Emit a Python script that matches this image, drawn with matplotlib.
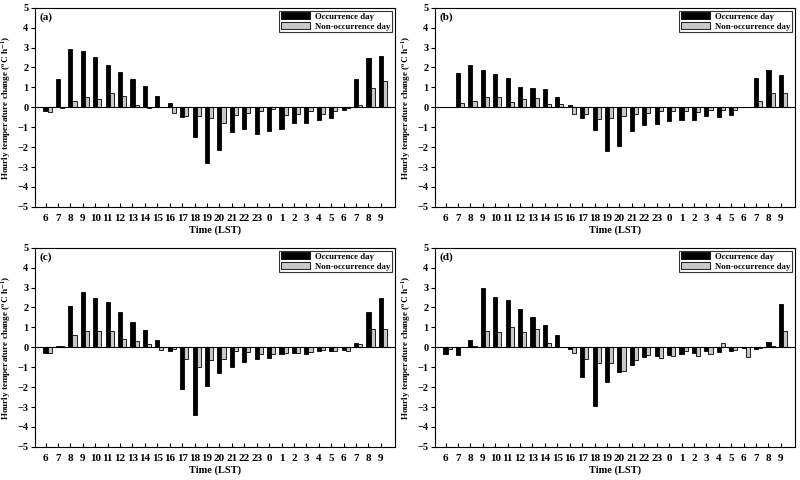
import numpy as np
import matplotlib
matplotlib.use('Agg')
import matplotlib.pyplot as plt

plt.rcParams['font.family'] = 'Liberation Serif'
plt.rcParams['font.weight'] = 'bold'
plt.rcParams['mathtext.fontset'] = 'stix'

hours = ['6', '7', '8', '9', '10', '11', '12', '13', '14', '15', '16', '17', '18', '19',
         '20', '21', '22', '23', '0', '1', '2', '3', '4', '5', '6', '7', '8', '9']

# (a)
occ_a = [-0.2, 1.4, 2.92, 2.83, 2.5, 2.13, 1.77, 1.4, 1.08, 0.57, 0.2, -0.48, -1.48, -2.82,
         -2.12, -1.25, -1.07, -1.32, -1.18, -1.08, -0.78, -0.8, -0.63, -0.53, -0.15, 1.42, 2.47, 2.57]
non_a = [-0.25, -0.03, 0.33, 0.53, 0.43, 0.72, 0.55, 0.12, -0.03, 0.02, -0.3, -0.45, -0.43, -0.53,
         -0.78, -0.38, -0.28, -0.17, -0.08, -0.38, -0.33, -0.18, -0.32, -0.17, -0.05, 0.12, 0.98, 1.3]
# (b)
occ_b = [0.03, 1.72, 2.13, 1.85, 1.67, 1.48, 1.03, 0.95, 0.9, 0.5, 0.12, -0.52, -1.13, -2.18,
         -1.95, -1.2, -0.88, -0.83, -0.68, -0.62, -0.62, -0.42, -0.5, -0.38, 0.02, 1.48, 1.87, 1.62]
non_b = [0.0, 0.22, 0.33, 0.5, 0.53, 0.28, 0.4, 0.47, 0.15, 0.17, -0.35, -0.33, -0.58, -0.52,
         -0.43, -0.32, -0.28, -0.17, -0.17, -0.17, -0.22, -0.13, -0.13, -0.13, 0.02, 0.33, 0.72, 0.7]
# (c)
occ_c = [-0.3, 0.07, 2.08, 2.77, 2.47, 2.27, 1.78, 1.25, 0.88, 0.35, -0.2, -2.07, -3.42, -1.93,
         -1.27, -0.98, -0.72, -0.6, -0.52, -0.35, -0.28, -0.32, -0.18, -0.2, -0.12, 0.2, 1.78, 2.45]
non_c = [-0.28, 0.05, 0.6, 0.82, 0.82, 0.83, 0.43, 0.3, 0.18, -0.12, -0.07, -0.6, -0.97, -0.63,
         -0.57, -0.18, -0.25, -0.32, -0.35, -0.27, -0.27, -0.22, -0.15, -0.2, -0.17, 0.15, 0.9, 0.9]
# (d)
occ_d = [-0.35, -0.37, 0.35, 2.98, 2.52, 2.35, 1.93, 1.53, 1.13, 0.62, -0.1, -1.47, -2.93, -1.72,
         -1.25, -0.88, -0.48, -0.45, -0.4, -0.33, -0.28, -0.17, -0.22, -0.2, -0.05, -0.07, 0.27, 2.18]
non_d = [-0.08, 0.0, 0.07, 0.83, 0.75, 1.03, 0.75, 0.9, 0.22, 0.03, -0.28, -0.6, -0.77, -0.77,
         -1.18, -0.62, -0.4, -0.53, -0.42, -0.18, -0.42, -0.33, 0.22, -0.15, -0.47, -0.02, 0.07, 0.8]

panels = [('(a)', occ_a, non_a), ('(b)', occ_b, non_b), ('(c)', occ_c, non_c), ('(d)', occ_d, non_d)]
rects = [[0.044, 0.569, 0.450, 0.415], [0.544, 0.569, 0.450, 0.415],
         [0.044, 0.069, 0.450, 0.415], [0.544, 0.069, 0.450, 0.415]]

fig = plt.figure(figsize=(8, 4.8), dpi=100)
x = np.arange(len(hours))
w = 0.33

for (lab, occ, non), r in zip(panels, rects):
    ax = fig.add_axes(r)
    ax.bar(x, occ, width=w, color='black', edgecolor='black', linewidth=0.6, label='Occurrence day')
    ax.bar(x + w, non, width=w, color='#c8c8c8', edgecolor='black', linewidth=0.6, label='Non-occurrence day')
    ax.axhline(0, color='black', linewidth=0.8)
    ax.set_xlim(-0.83, 28.15)
    ax.set_ylim(-5, 5)
    ax.set_yticks(range(-5, 6))
    ax.set_xticks(x)
    ax.set_xticklabels(hours)
    ax.tick_params(axis='x', direction='in', length=3, labelsize=8, pad=5)
    ax.tick_params(axis='y', direction='out', length=3, labelsize=7.5, pad=2)
    ax.set_xlabel('Time (LST)', fontsize=7.5, fontweight='bold', labelpad=2)
    ax.set_ylabel('Hourly temperature change ($^{\\rm o}$C h$^{-1}$)', fontsize=6.6, fontweight='bold')
    ax.yaxis.set_label_coords(-0.062, 0.5)
    ax.text(0.012, 0.975, lab, transform=ax.transAxes, ha='left', va='top', fontsize=8, fontweight='bold')
    leg = ax.legend(loc='upper right', fontsize=6.3, frameon=True, fancybox=False, borderpad=0.2,
                    handlelength=3.3, handleheight=0.8, handletextpad=0.6, labelspacing=0.15,
                    borderaxespad=0.35)
    leg.get_frame().set_edgecolor('black')
    leg.get_frame().set_linewidth(0.8)
    for s in ax.spines.values():
        s.set_linewidth(0.8)

fig.savefig('out.png', dpi=100)
